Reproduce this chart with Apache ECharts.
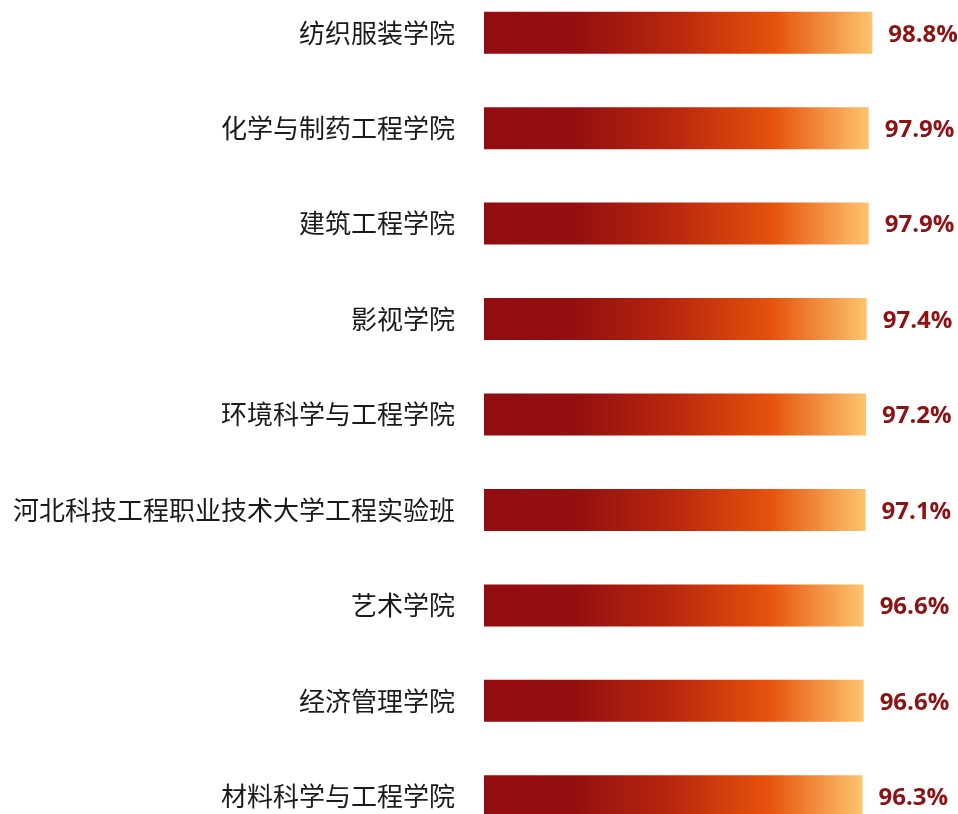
<!DOCTYPE html>
<html>
<head>
<meta charset="utf-8">
<style>
  html, body { margin: 0; padding: 0; background: #fff; }
  #chart { width: 958px; height: 814px; }
</style>
<script src="https://cdn.jsdelivr.net/npm/echarts@6/dist/echarts.min.js"></script>
</head>
<body>
<div id="chart"></div>
<script>
// 学院名称（自上而下）
var colleges = [
  '纺织服装学院',
  '化学与制药工程学院',
  '建筑工程学院',
  '影视学院',
  '环境科学与工程学院',
  '河北科技工程职业技术大学工程实验班',
  '艺术学院',
  '经济管理学院',
  '材料科学与工程学院'
]
// 比例 %
var rates = [98.8, 97.9, 97.9, 97.4, 97.2, 97.1, 96.6, 96.6, 96.3]

var chart = echarts.init(document.getElementById('chart'))

chart.setOption({
  backgroundColor: '#ffffff',
  animation: false,
  grid: {
    left: 484,
    right: 81,
    top: -15,
    bottom: -30,
    outerBoundsMode: 'none'
  },
  xAxis: {
    type: 'value',
    min: 0,
    max: 100,
    show: false
  },
  yAxis: {
    type: 'category',
    inverse: true,
    data: colleges,
    axisLine: { show: false },
    axisTick: { show: false },
    splitLine: { show: false },
    axisLabel: {
      margin: 29,
      color: '#1a1a1a',
      fontSize: 26,
      fontFamily: 'Noto Sans CJK SC'
    }
  },
  series: [{
    type: 'bar',
    data: rates,
    barWidth: 42,
    itemStyle: {
      color: new echarts.graphic.LinearGradient(0, 0, 1, 0, [
        { offset: 0, color: '#930d10' },
        { offset: 0.24, color: '#940f10' },
        { offset: 0.5, color: '#b9280e' },
        { offset: 0.75, color: '#e6520c' },
        { offset: 1, color: '#fdc46e' }
      ])
    },
    label: {
      show: true,
      position: 'right',
      distance: 16,
      offset: [0, 2],
      formatter: '{c}%',
      color: '#8e1114',
      fontSize: 24,
      fontWeight: 'bold',
      fontFamily: 'Open Sans'
    }
  }]
})
</script>
</body>
</html>
